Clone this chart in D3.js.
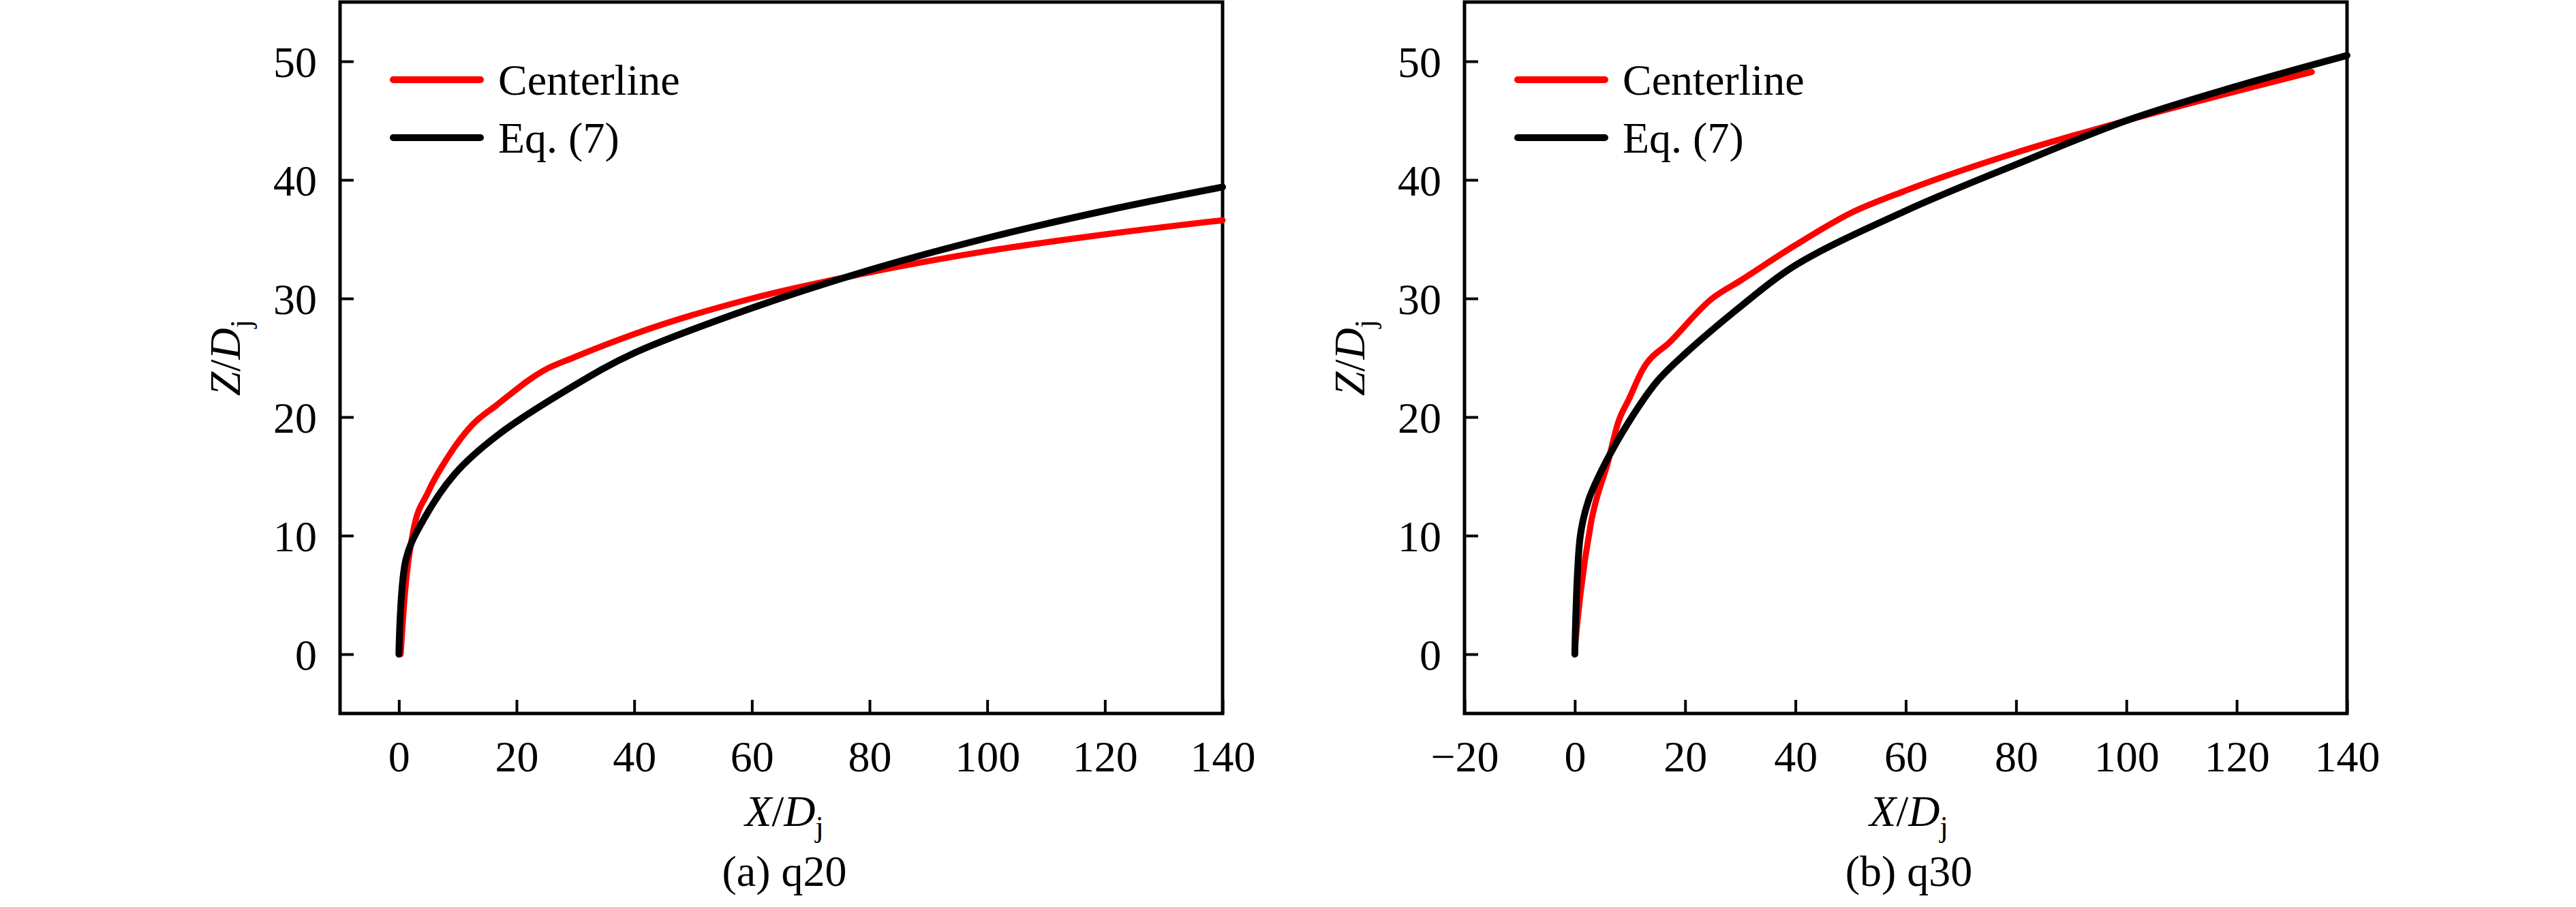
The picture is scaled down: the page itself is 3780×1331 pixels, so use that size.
<!DOCTYPE html>
<html>
<head>
<meta charset="utf-8">
<script src="https://cdn.jsdelivr.net/npm/d3@7"></script>
<style>
  body { margin: 0; background: #fff; }
  text { font-family: "Liberation Serif", "Times New Roman", serif; }
</style>
</head>
<body>
<div id="chart"></div>
<script>
// q20 panel
const q20CenterX = [0.3, 1, 2.4, 5, 8.3, 12.4, 16.6, 24.9, 29.6, 40, 60, 78, 100, 120, 140];
const q20CenterZ = [0, 5, 10.3, 13.7, 16.6, 19.3, 21, 24, 25, 27, 30, 32, 34, 35.4, 36.6];
const q20EqX = [0, 1.2, 3.8, 9.5, 16.6, 29.6, 40, 60, 80, 100, 120, 140];
const q20EqZ = [0, 8, 11, 15.2, 18.4, 22.6, 25.4, 29.2, 32.4, 35.1, 37.4, 39.4];

// q30 panel
const q30CenterX = [0, 1, 2.9, 6, 7.9, 9.8, 12.3, 17.4, 24.9, 30, 40, 50, 60, 80, 100, 133.6];
const q30CenterZ = [0.5, 5, 11, 16.2, 19.6, 21.5, 24, 26.4, 30, 31.5, 34.5, 37.2, 39.1, 42.3, 45, 49.1];
const q30EqX = [0, 1, 2.5, 5.4, 9.8, 14.9, 19.9, 30, 40, 60, 80, 100, 120, 140];
const q30EqZ = [0, 10, 13, 16, 19.6, 23, 25.3, 29.3, 32.8, 37.4, 41.3, 45, 47.9, 50.5];

const xTicksA = [0, 20, 40, 60, 80, 100, 120, 140];
const xTicksB = [-20, 0, 20, 40, 60, 80, 100, 120, 140];
const yTicks = [0, 10, 20, 30, 40, 50];
const seriesNames = ["Centerline", "Eq. (7)"];
const captions = ["(a) q20", "(b) q30"];

const W = 3780, H = 1331;
const svg = d3.select("#chart").append("svg").attr("width", W).attr("height", H);

const zip = (xs, ys) => xs.map((x, i) => [x, ys[i]]);

const panels = [
  { left: 499, right: 1794, xDomain: [-10, 140], xTicks: xTicksA,
    center: zip(q20CenterX, q20CenterZ), eq: zip(q20EqX, q20EqZ), caption: captions[0] },
  { left: 2149, right: 3444, xDomain: [-20, 140], xTicks: xTicksB,
    center: zip(q30CenterX, q30CenterZ), eq: zip(q30EqX, q30EqZ), caption: captions[1] }
];

const plotTop = 3, plotBottom = 1047;
const fs = 64;

panels.forEach(p => {
  const x = d3.scaleLinear().domain(p.xDomain).range([p.left, p.right]);
  const y = d3.scaleLinear().domain([-5, 55]).range([plotBottom, plotTop]);
  const g = svg.append("g");

  // axes with inward ticks
  const xa = g.append("g").attr("transform", `translate(0,${plotBottom})`)
    .call(d3.axisBottom(x).tickValues(p.xTicks).tickSizeInner(-20).tickSizeOuter(0)
      .tickFormat(d => d < 0 ? "\u2212" + Math.abs(d) : d).tickPadding(40));
  const ya = g.append("g").attr("transform", `translate(${p.left},0)`)
    .call(d3.axisLeft(y).tickValues(yTicks).tickSizeInner(-20).tickSizeOuter(0).tickPadding(34));
  [xa, ya].forEach(a => {
    a.select(".domain").remove();
    a.selectAll("line").attr("stroke", "#000").attr("stroke-width", 4);
    a.selectAll("text").attr("font-size", fs).attr("font-family", "Liberation Serif").attr("fill", "#000");
  });
  xa.selectAll("text").attr("dy", "0.71em");
  ya.selectAll("text").attr("dy", "0.35em");

  // frame
  g.append("rect").attr("x", p.left).attr("y", plotTop)
    .attr("width", p.right - p.left).attr("height", plotBottom - plotTop)
    .attr("fill", "none").attr("stroke", "#000").attr("stroke-width", 5);

  const line = d3.line().x(d => x(d[0])).y(d => y(d[1])).curve(d3.curveMonotoneX);
  g.append("path").datum(p.center).attr("d", line)
    .attr("fill", "none").attr("stroke", "#ff0000").attr("stroke-width", 9).attr("stroke-linecap", "round");
  g.append("path").datum(p.eq).attr("d", d3.line().x(d => x(d[0])).y(d => y(d[1])).curve(d3.curveCatmullRom))
    .attr("fill", "none").attr("stroke", "#000").attr("stroke-width", 10).attr("stroke-linecap", "round");

  // legend
  const lx = p.left + 78;
  [["#ff0000", 117], ["#000", 202]].forEach(([c, ly], i) => {
    g.append("line").attr("x1", lx).attr("x2", lx + 128).attr("y1", ly).attr("y2", ly)
      .attr("stroke", c).attr("stroke-width", 10).attr("stroke-linecap", "round");
    g.append("text").attr("x", lx + 154).attr("y", ly + 22).attr("font-size", fs).text(seriesNames[i]);
  });

  const cx = p.left + 652;
  // x title
  const xt = g.append("text").attr("x", cx).attr("y", 1212).attr("text-anchor", "middle").attr("font-size", fs);
  xt.append("tspan").attr("font-style", "italic").text("X");
  xt.append("tspan").text("/");
  xt.append("tspan").attr("font-style", "italic").text("D");
  xt.append("tspan").attr("font-size", 44).attr("dy", 16).text("j");

  // y title
  const yt = g.append("text").attr("transform", `translate(${p.left - 147},${y(25)}) rotate(-90)`)
    .attr("text-anchor", "middle").attr("font-size", fs);
  yt.append("tspan").attr("font-style", "italic").text("Z");
  yt.append("tspan").text("/");
  yt.append("tspan").attr("font-style", "italic").text("D");
  yt.append("tspan").attr("font-size", 44).attr("dy", 16).text("j");

  g.append("text").attr("x", cx).attr("y", 1300).attr("text-anchor", "middle")
    .attr("font-size", fs).text(p.caption);
});
</script>
</body>
</html>
